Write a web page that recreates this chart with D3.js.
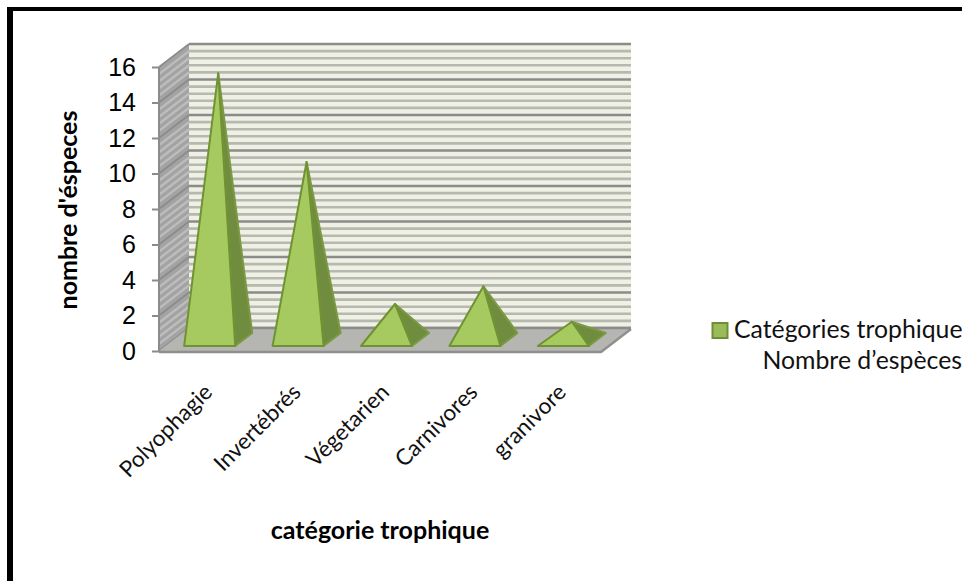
<!DOCTYPE html>
<html><head><meta charset="utf-8">
<script src="https://cdn.jsdelivr.net/npm/d3@7"></script>
<style>html,body{margin:0;background:#fff}svg{display:block}</style></head>
<body><svg id="c" width="962" height="581"></svg>
<script>
const categories = ["Polyophagie","Invertébrés","Végetarien","Carnivores","granivore"];
const values = [15,10,2,3,1];
const yTicks = [0,2,4,6,8,10,12,14,16];
const yTitle = "nombre d'éspeces";
const xTitle = "catégorie trophique";
const legendLines = ["Catégories trophique","Nombre d’espèces"];

const svg = d3.select("#c");
const sans = "'Lato','Carlito',sans-serif";
const dx = 30, dy = -23;
const x0 = 159, x1 = 601;
const y = d3.scaleLinear().domain([0,16]).range([351,67]);
const x = d3.scaleBand().domain(categories).range([x0+dx/2, x1+dx/2]).paddingInner(0.23).paddingOuter(0.115);
const line = d3.line();

// frame
svg.append("rect").attr("x",7).attr("y",7).attr("width",955).attr("height",4).attr("fill","#000");
svg.append("rect").attr("x",7).attr("y",7).attr("width",6).attr("height",574).attr("fill","#000");

// back wall
svg.append("rect").attr("x",x0+dx).attr("y",y(16)+dy).attr("width",x1-x0).attr("height",y(0)-y(16)).attr("fill","#eef1e4");
// side wall
svg.append("path").attr("d",line([[x0,y(16)],[x0+dx,y(16)+dy],[x0+dx,y(0)+dy],[x0,y(0)]])).attr("fill","#a3a3a3");

const minor = d3.range(0,16.01,0.4).filter(v=>Math.abs(v/2-Math.round(v/2))>1e-6);
svg.append("g").selectAll("line").data(minor).join("line")
  .attr("x1",x0+dx).attr("x2",x1+dx).attr("y1",d=>y(d)+dy).attr("y2",d=>y(d)+dy)
  .attr("stroke","#b7b8b0").attr("stroke-width",2.6);
svg.append("g").selectAll("line").data(minor).join("line")
  .attr("x1",x0).attr("x2",x0+dx).attr("y1",d=>y(d)).attr("y2",d=>y(d)+dy)
  .attr("stroke","#bdbdbd").attr("stroke-width",2.4);
svg.append("g").selectAll("line").data(yTicks).join("line")
  .attr("x1",x0+dx).attr("x2",x1+dx).attr("y1",d=>y(d)+dy).attr("y2",d=>y(d)+dy)
  .attr("stroke","#8b8b8b").attr("stroke-width",2.4);
svg.append("g").selectAll("line").data(yTicks).join("line")
  .attr("x1",x0).attr("x2",x0+dx).attr("y1",d=>y(d)).attr("y2",d=>y(d)+dy)
  .attr("stroke","#8b8b8b").attr("stroke-width",1.6);

// floor
svg.append("path").attr("d",line([[x0,y(0)],[x0+dx,y(0)+dy],[x1+dx,y(0)+dy],[x1,y(0)]])).attr("fill","#b5b6b1");
svg.append("path").attr("d",line([[x0,y(0)+1],[x1,y(0)+1],[x1+dx,y(0)+dy+1]])).attr("fill","none").attr("stroke","#8f8f8f").attr("stroke-width",2.5);
svg.append("line").attr("x1",x0+dx).attr("x2",x1+dx).attr("y1",y(0)+dy).attr("y2",y(0)+dy).attr("stroke","#8b8b8b").attr("stroke-width",2.4);

// y axis
const ax = svg.append("g").attr("transform",`translate(${x0},0)`)
  .call(d3.axisLeft(y).tickValues(yTicks).tickSize(7).tickPadding(16));
ax.selectAll("path.domain").attr("stroke","#8b8b8b").attr("stroke-width",2).attr("d",`M0 ${y(16)}V${y(0)}`);
ax.selectAll(".tick line").attr("stroke","#8b8b8b").attr("stroke-width",2);
ax.selectAll("text").attr("fill","#000").style("font-family","'Liberation Sans',sans-serif").style("font-size","25px");

// pyramids
const depthY = 6.5;
const g = svg.append("g").selectAll("g").data(categories).join("g");
const cx = c => x(c)+x.bandwidth()/2;
const w = x.bandwidth();
const apex = (c,i) => [cx(c), y(values[i])+dy/2];
const fl = c => [cx(c)-w/2, y(0)+dy/2+depthY];
const fr = c => [cx(c)+w/4, y(0)+dy/2+depthY];
const br = c => [cx(c)+w/2, y(0)+dy/2-depthY];
g.append("path").attr("d",(c,i)=>line([fr(c),br(c),apex(c,i)])+"Z")
  .attr("fill","#708c3f").attr("stroke","#7b9a42").attr("stroke-width",2).attr("stroke-linejoin","round");
g.append("path").attr("d",(c,i)=>line([fl(c),fr(c),apex(c,i)])+"Z")
  .attr("fill","#a7ca60").attr("stroke","#6f9233").attr("stroke-width",2).attr("stroke-linejoin","round");

// category labels
svg.append("g").selectAll("text").data(categories).join("text")
  .text(d=>d)
  .attr("transform",c=>`translate(${cx(c)-10},388) rotate(-45)`)
  .attr("text-anchor","end").attr("dy","0.35em")
  .style("font-family",sans).style("font-size","22.5px").attr("fill","#111");

// titles
svg.append("text").text(yTitle).attr("transform","translate(77,210) rotate(-90)").attr("text-anchor","middle")
  .style("font-family",sans).style("font-weight","700").style("font-size","25px").attr("fill","#000");
svg.append("text").text(xTitle).attr("x",380).attr("y",539).attr("text-anchor","middle")
  .style("font-family",sans).style("font-weight","700").style("font-size","25px").attr("fill","#000");

// legend
svg.append("rect").attr("x",712.5).attr("y",323).attr("width",15).attr("height",15)
  .attr("fill","#9bbb59").attr("stroke","#6f8f36").attr("stroke-width",2);
svg.append("text").text(legendLines[0]).attr("x",734).attr("y",338)
  .style("font-family",sans).style("font-size","24.8px").attr("fill","#111");
svg.append("text").text(legendLines[1]).attr("x",962).attr("y",369).attr("text-anchor","end")
  .style("font-family",sans).style("font-size","24.8px").attr("fill","#111");
</script></body></html>
